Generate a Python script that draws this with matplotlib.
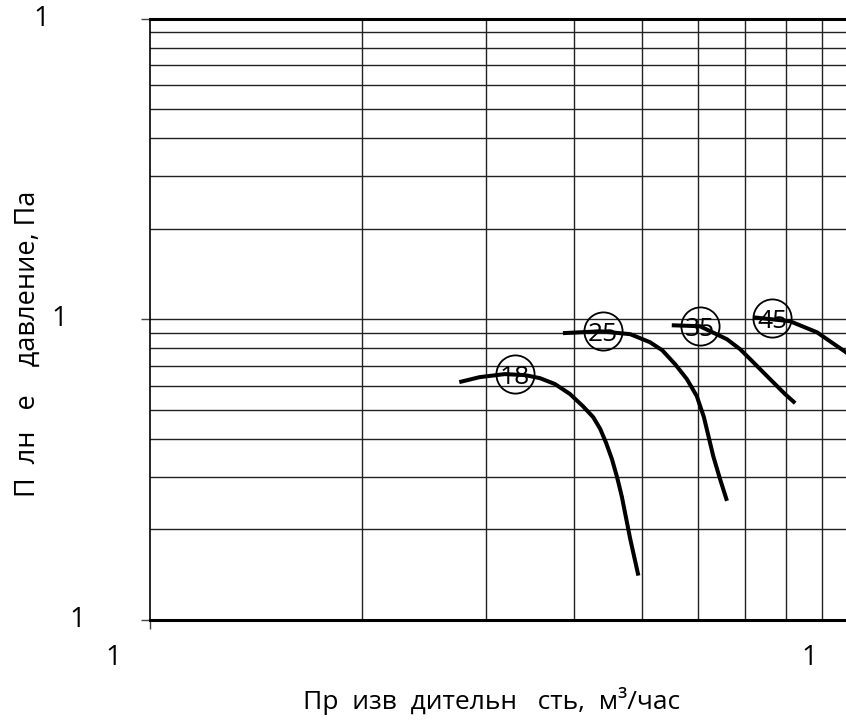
import matplotlib
matplotlib.use("Agg")
import matplotlib.pyplot as plt
import matplotlib.transforms as mtransforms
from matplotlib.ticker import NullLocator, FixedLocator

plt.rcParams['font.family'] = ['Open Sans', 'DejaVu Sans']

# ---- data ----
flow_18 = [275, 294, 319, 341, 358, 376, 395, 412, 426, 436, 444.5, 453, 461, 468, 481, 494]
press_18 = [61.8, 64.2, 65.7, 65.2, 63.7, 60.9, 56.4, 51.4, 47.3, 43.2, 38.8, 34.3, 29.7, 25.7, 18.6, 14.05]

flow_25 = [386, 436, 481, 513, 534, 557, 579, 598, 612, 631, 645, 660]
press_25 = [89.9, 91.2, 89.2, 83.9, 78.9, 70.9, 63.2, 55.5, 47.3, 35.1, 29.5, 24.9]

flow_35 = [551, 604, 660, 689, 712, 760, 798, 825]
press_35 = [95.5, 94.8, 85.8, 79.5, 73.7, 63.2, 56.4, 52.6]

flow_45 = [719, 811, 886, 946, 974, 1020]
press_45 = [101.5, 98.5, 90.5, 81.4, 77.7, 68.3]

curve_names = ["18", "25", "35", "45"]
label_flow = [330, 440, 604, 765]
label_press = [65.7, 91.2, 94.8, 100.8]

x_tick_values = [100, 1000]
x_tick_labels = ["1", "1"]
y_tick_values = [10, 100, 1000]
y_tick_labels = ["1", "1", "1"]

x_label = "Пр  изв  дительн   сть,  м³/час"
y_label = "П  лн   е    давление, Па"

# ---- figure ----
W, H = 846, 727
fig = plt.figure(figsize=(W / 100, H / 100), dpi=100)
ax = fig.add_axes([150 / W, 107 / H, 704 / W, 601.5 / H])
ax.set_xscale('log')
ax.set_yscale('log')
ax.set_xlim(100, 1000)
ax.set_ylim(10, 1000)

# grid (major + minor log lines)
xgrid = [100 * k for k in range(2, 10)]
ygrid = [d * k for d in (10, 100) for k in range(1, 10)]
for gx in xgrid:
    ax.axvline(gx, color='#222222', lw=1.0, zorder=1)
for gy in ygrid:
    ax.axhline(gy, color='#222222', lw=1.0, zorder=1)

# spines
ax.spines['right'].set_visible(False)
ax.spines['top'].set_linewidth(2.2)
ax.spines['bottom'].set_linewidth(2.2)
ax.spines['left'].set_linewidth(1.2)
for s in ax.spines.values():
    s.set_color('black')

# ticks
ax.xaxis.set_major_locator(FixedLocator(x_tick_values))
ax.yaxis.set_major_locator(FixedLocator(y_tick_values))
ax.xaxis.set_minor_locator(NullLocator())
ax.yaxis.set_minor_locator(NullLocator())
ax.tick_params(axis='both', which='major', direction='out', length=6.5,
               width=1.0, color='#444444', labelleft=False, labelbottom=False)

# tick labels as text (with pixel offsets to match the reference)
y_off_px = [-73, -91, -109]
for v, lab, dx in zip(y_tick_values, y_tick_labels, y_off_px):
    tr = mtransforms.offset_copy(ax.get_yaxis_transform(), fig=fig,
                                 x=dx, y=0, units='dots')
    ax.text(0, v, lab, transform=tr, ha='center', va='center',
            fontsize=20, clip_on=False)
x_off_px = [-37, -45]
for v, lab, dx in zip(x_tick_values, x_tick_labels, x_off_px):
    tr = mtransforms.offset_copy(ax.get_xaxis_transform(), fig=fig,
                                 x=dx, y=-38, units='dots')
    ax.text(v, 0, lab, transform=tr, ha='center', va='center',
            fontsize=20, clip_on=False)

# curves
for fx, py in [(flow_18, press_18), (flow_25, press_25),
               (flow_35, press_35), (flow_45, press_45)]:
    ax.plot(fx, py, color='black', lw=2.9, solid_capstyle='butt',
            solid_joinstyle='round', zorder=3, clip_on=False)

# circled labels
for name, fx, py in zip(curve_names, label_flow, label_press):
    ax.plot([fx], [py], marker='o', ms=27.5, mfc='none', mec='black',
            mew=1.3, zorder=4)
    ax.text(fx, py, name, ha='center', va='center_baseline', fontsize=19,
            zorder=5)

# axis labels
fig.text(492 / W, 1 - 701 / H, x_label, ha='center', va='center', fontsize=19)
fig.text(28 / W, 1 - 344 / H, y_label, ha='center', va='center',
         rotation=90, fontsize=19.5)

fig.savefig('out.png', dpi=100)
